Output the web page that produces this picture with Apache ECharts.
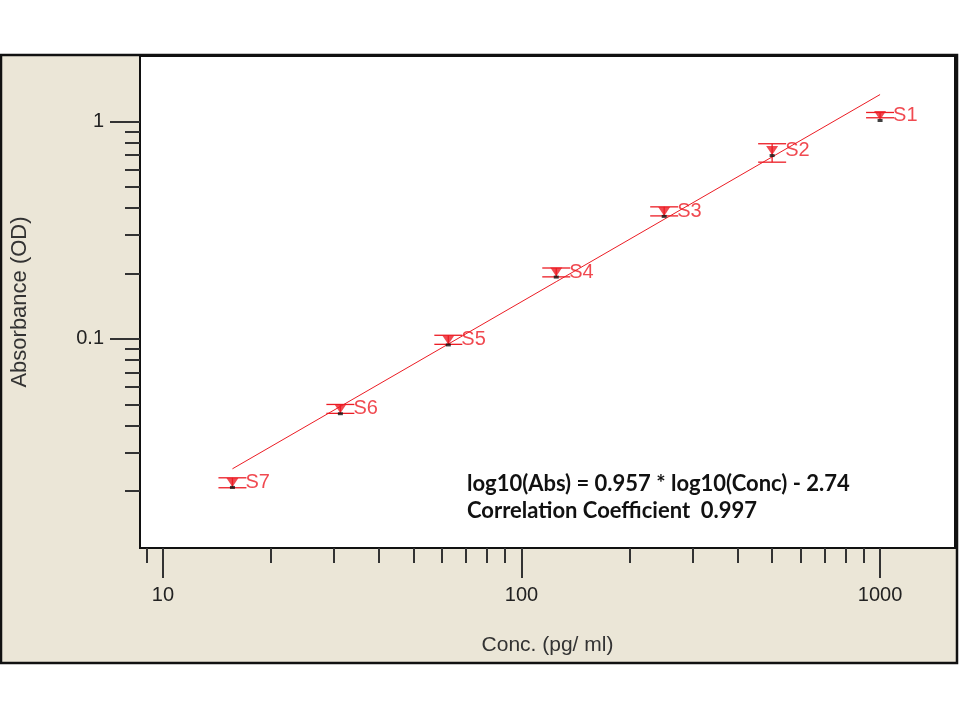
<!DOCTYPE html>
<html><head><meta charset="utf-8">
<script src="https://cdn.jsdelivr.net/npm/echarts@6/dist/echarts.min.js"></script>
<style>html,body{margin:0;padding:0;background:#fff}#c{width:960px;height:720px}</style>
</head><body><div id="c"></div>
<script>
// ---- data ----
const standards = ['S1','S2','S3','S4','S5','S6','S7'];
const conc = [1000, 500, 250, 125, 62.5, 31.25, 15.625];
const absorb = [1.065, 0.735, 0.386, 0.203, 0.099, 0.0478, 0.0219];
const absLow = [1.04, 0.65, 0.368, 0.193, 0.0945, 0.0455, 0.0207];
const absHigh = [1.10, 0.79, 0.405, 0.212, 0.104, 0.0500, 0.0230];
const fitConc = [15.625, 1000];
const fitAbs = [0.0253, 1.33];
const xMajorTicks = [10, 100, 1000];
const xMinorTicks = [9, 20, 30, 40, 50, 60, 70, 80, 90, 200, 300, 400, 500, 600, 700, 800, 900];
const yMajorTicks = [0.1, 1];
const yMinorTicks = [0.02, 0.03, 0.04, 0.05, 0.06, 0.07, 0.08, 0.09, 0.2, 0.3, 0.4, 0.5, 0.6, 0.7, 0.8, 0.9];
const xRange = [8.63, 1618];
const yRange = [0.01094, 2.0];
const equationText = 'log10(Abs) = 0.957 * log10(Conc) - 2.74';
const corrText = 'Correlation Coefficient  0.997';

const RED = '#ec1c24';
const FONT = 'Liberation Sans, Arial, sans-serif';
const chart = echarts.init(document.getElementById('c'));

const pts = conc.map((c, i) => ({ value: [c, absorb[i]], name: standards[i] }));
const errs = conc.map((c, i) => [c, absLow[i], absHigh[i]]);
const fit = fitConc.map((c, i) => [c, fitAbs[i]]);

const baseX = { type: 'log', gridIndex: 0, position: 'bottom', min: xRange[0], max: xRange[1], splitLine: { show: false }, minorTick:{show:false}, minorSplitLine:{show:false} };
const baseY = { type: 'log', gridIndex: 0, position: 'left', min: yRange[0], max: yRange[1], splitLine: { show: false }, minorTick:{show:false}, minorSplitLine:{show:false} };
const plainNum = v => String(+v.toPrecision(6));

chart.setOption({
  animation: false,
  backgroundColor: '#fff',
  graphic: [
    { type: 'rect', z: -10, shape: { x: 1, y: 55, width: 956, height: 608 },
      style: { fill: '#ebe6d7', stroke: '#111', lineWidth: 2.5 } },
    { type: 'text', z: 100, left: 467, top: 473,
      style: { text: equationText, font: 'bold 22px Lato, "Open Sans", sans-serif', fill: '#111' } },
    { type: 'text', z: 100, left: 467, top: 500,
      style: { text: corrText, font: 'bold 22px Lato, "Open Sans", sans-serif', fill: '#111' } }
  ],
  grid: { left: 140, top: 56, width: 815, height: 492, show: true, backgroundColor: '#fff', borderColor: '#111', borderWidth: 2, containLabel: false },
  xAxis: [
    Object.assign({}, baseX, {
      name: 'Conc. (pg/ ml)', nameLocation: 'middle', nameGap: 87,
      nameTextStyle: { fontFamily: FONT, fontSize: 21, color: '#333' },
      axisLine: { show: true, lineStyle: { color: '#111', width: 2 } },
      axisTick: { show: true, length: 30, customValues: xMajorTicks, lineStyle: { color: '#333', width: 2 } },
      axisLabel: { show: true, customValues: xMajorTicks, margin: 37, formatter: plainNum, fontFamily: FONT, fontSize: 20, color: '#222' }
    }),
    Object.assign({}, baseX, {
      axisLine: { show: false },
      axisTick: { show: true, length: 15, customValues: xMinorTicks, lineStyle: { color: '#333', width: 2 } },
      axisLabel: { show: false }
    })
  ],
  yAxis: [
    Object.assign({}, baseY, {
      name: 'Absorbance (OD)', nameLocation: 'middle', nameGap: 109, nameRotate: 90,
      nameTextStyle: { fontFamily: FONT, fontSize: 22, color: '#333' },
      axisLine: { show: true, lineStyle: { color: '#111', width: 2 } },
      axisTick: { show: true, length: 30, customValues: yMajorTicks, lineStyle: { color: '#333', width: 2 } },
      axisLabel: { show: true, customValues: yMajorTicks, margin: 36, formatter: plainNum, fontFamily: FONT, fontSize: 20, color: '#222' }
    }),
    Object.assign({}, baseY, {
      axisLine: { show: false },
      axisTick: { show: true, length: 15, customValues: yMinorTicks, lineStyle: { color: '#333', width: 2 } },
      axisLabel: { show: false }
    })
  ],
  series: [
    { type: 'line', data: fit, xAxisIndex: 0, yAxisIndex: 0, symbol: 'none', lineStyle: { color: RED, width: 1 }, z: 2 },
    { type: 'custom', data: errs, xAxisIndex: 0, yAxisIndex: 0, z: 3,
      renderItem: function (params, api) {
        const x = api.value(0), lo = api.value(1), hi = api.value(2);
        const a = api.coord([x, lo]), b = api.coord([x, hi]);
        const w = 14, st = { stroke: RED, lineWidth: 1.3 };
        return { type: 'group', children: [
          { type: 'line', shape: { x1: a[0], y1: a[1], x2: b[0], y2: b[1] }, style: st },
          { type: 'line', shape: { x1: a[0] - w, y1: a[1], x2: a[0] + w, y2: a[1] }, style: st },
          { type: 'line', shape: { x1: b[0] - w, y1: b[1], x2: b[0] + w, y2: b[1] }, style: st }
        ] };
      } },
    { type: 'scatter', data: pts, xAxisIndex: 0, yAxisIndex: 0, z: 4,
      symbol: 'triangle', symbolRotate: 180, symbolSize: [12, 9],
      itemStyle: { color: RED },
      label: { show: true, position: 'right', distance: 7, formatter: '{b}', color: RED,
        fontFamily: FONT, fontSize: 20 } },
    { type: 'scatter', data: pts, xAxisIndex: 0, yAxisIndex: 0, z: 5,
      symbol: 'rect', symbolSize: [5, 3], symbolOffset: [0, 5], itemStyle: { color: '#111' } }
  ]
});
</script></body></html>
